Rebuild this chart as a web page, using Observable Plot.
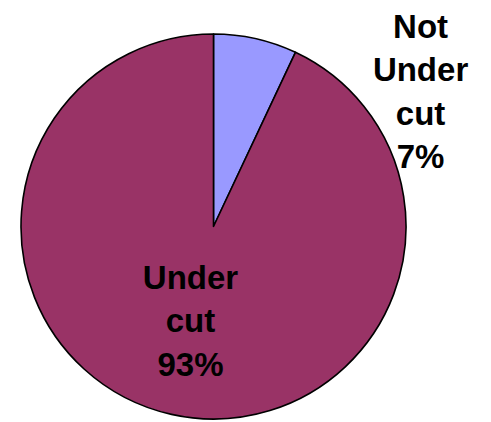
<!DOCTYPE html>
<html><head><meta charset="utf-8">
<script src="https://cdn.jsdelivr.net/npm/d3@7"></script>
<script src="https://cdn.jsdelivr.net/npm/@observablehq/plot@0.6"></script>
<style>
html,body{margin:0;padding:0;background:#fff}
#chart svg{display:block}
</style>
</head><body><div id="chart"></div>
<script>
const categories = ["Not Under cut", "Under cut"];
const shares = [7, 93];
const labelTexts = ["Not\nUnder\ncut\n7%", "Under\ncut\n93%"];
const sliceColors = ["#9999FF", "#993366"];

const table = categories.map((c, i) => ({category: c, share: shares[i], label: labelTexts[i]}));
const colorOf = d3.scaleOrdinal(categories, sliceColors);

const pieMark = (index, scales) => {
  const cx = scales.x(0), cy = scales.y(0);
  const r = Math.abs(scales.x(1) - scales.x(0));
  const arcs = d3.pie().sort(null).value(d => d.share)(table);
  const g = d3.create("svg:g");
  g.selectAll("path").data(arcs).join("path")
    .attr("transform", `translate(${cx},${cy})`)
    .attr("d", d3.arc().innerRadius(0).outerRadius(r))
    .attr("fill", d => colorOf(d.data.category))
    .attr("stroke", "black")
    .attr("stroke-width", 1.6)
    .attr("stroke-linejoin", "round");
  return g.node();
};

const labelPos = [{x: 1.073, y: 0.716}, {x: -0.122, y: -0.474}];

const chart = Plot.plot({
  width: 491,
  height: 422,
  marginLeft: 21,
  marginRight: 85,
  marginTop: 34,
  marginBottom: 3,
  x: {domain: [-1, 1], axis: null},
  y: {domain: [-1, 1], axis: null},
  style: {background: "white", fontFamily: "'Liberation Sans', Arial, sans-serif"},
  marks: [
    pieMark,
    Plot.text(table, {
      x: (d, i) => labelPos[i].x,
      y: (d, i) => labelPos[i].y,
      text: "label",
      fontSize: 33,
      fontWeight: "bold",
      lineHeight: 1.32,
      lineAnchor: "middle",
      textAnchor: "middle",
      fill: "black"
    })
  ]
});
document.getElementById("chart").appendChild(chart);
</script>
</body></html>
